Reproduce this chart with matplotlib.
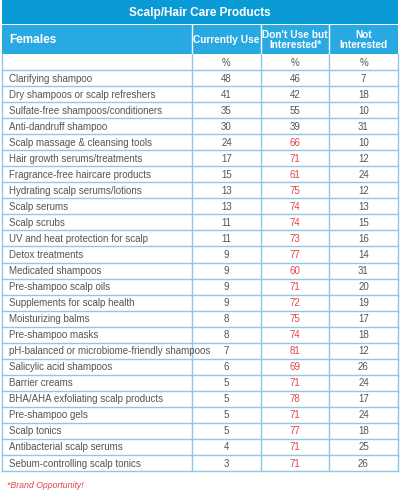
import matplotlib
matplotlib.use('Agg')
import matplotlib.pyplot as plt
from matplotlib.patches import Rectangle

title = 'Scalp/Hair Care Products'
headers = ['Females', 'Currently Use', "Don't Use but\nInterested*", 'Not\nInterested']
products = ['Clarifying shampoo', 'Dry shampoos or scalp refreshers', 'Sulfate-free shampoos/conditioners',
            'Anti-dandruff shampoo', 'Scalp massage & cleansing tools', 'Hair growth serums/treatments',
            'Fragrance-free haircare products', 'Hydrating scalp serums/lotions', 'Scalp serums', 'Scalp scrubs',
            'UV and heat protection for scalp', 'Detox treatments', 'Medicated shampoos', 'Pre-shampoo scalp oils',
            'Supplements for scalp health', 'Moisturizing balms', 'Pre-shampoo masks',
            'pH-balanced or microbiome-friendly shampoos', 'Salicylic acid shampoos', 'Barrier creams',
            'BHA/AHA exfoliating scalp products', 'Pre-shampoo gels', 'Scalp tonics',
            'Antibacterial scalp serums', 'Sebum-controlling scalp tonics']
currently_use = [48, 41, 35, 30, 24, 17, 15, 13, 13, 11, 11, 9, 9, 9, 9, 8, 8, 7, 6, 5, 5, 5, 5, 4, 3]
interested = [46, 42, 55, 39, 66, 71, 61, 75, 74, 74, 73, 77, 60, 71, 72, 75, 74, 81, 69, 71, 78, 71, 77, 71, 71]
not_interested = [7, 18, 10, 31, 10, 12, 24, 12, 13, 15, 16, 14, 31, 20, 19, 17, 18, 12, 26, 24, 17, 24, 18, 25, 26]
highlighted = products[4:]  # red "brand opportunity" values

plt.rcParams['font.family'] = ['Liberation Sans Narrow', 'Liberation Sans', 'DejaVu Sans']

W, H = 400, 498
fig = plt.figure(figsize=(W / 100, H / 100), dpi=100)
ax = fig.add_axes([0, 0, 1, 1])
ax.set_xlim(0, W)
ax.set_ylim(H, 0)
ax.axis('off')

blue_dark = '#0a9ad6'
blue = '#29a9e1'
line = '#8cc8ea'
grey = '#555555'
red = '#e0474c'
cols = [2, 192, 261, 329, 398]

# title bar and header
ax.add_patch(Rectangle((2, 0), 396, 24, color=blue_dark, lw=0))
ax.text(200, 12.5, title, color='white', fontsize=8.5, fontweight='bold', ha='center', va='center')
ax.add_patch(Rectangle((2, 25), 396, 29, color=blue, lw=0))
for i, h in enumerate(headers):
    if i == 0:
        ax.text(9, 40, h, color='white', fontsize=8.5, fontweight='bold', va='center')
    else:
        ax.text((cols[i] + cols[i + 1]) / 2, 40, h, color='white', fontsize=7.3, fontweight='bold',
                ha='center', va='center', linespacing=1.0)
for x in cols[1:-1]:
    ax.plot([x, x], [25, 54], color='white', lw=1)

top, rh = 54, 16.04
rows = [('', '%', '%', '%')] + list(zip(products, currently_use, interested, not_interested))
for r, row in enumerate(rows):
    y0 = top + r * rh
    yc = y0 + rh / 2 + 0.5
    ax.text(9, yc, row[0], color=grey, fontsize=7, va='center')
    for j in range(1, 4):
        c = red if (j == 2 and row[0] in highlighted) else grey
        ax.text((cols[j] + cols[j + 1]) / 2, yc, str(row[j]), color=c, fontsize=7, ha='center', va='center')
    ax.plot([2, 398], [y0 + rh, y0 + rh], color=line, lw=1)
bottom = top + len(rows) * rh
for x in cols:
    ax.plot([x, x], [54, bottom], color=line, lw=1)

ax.text(7, 485, '*Brand Opportunity!', color=red, fontsize=6.3, style='italic', va='center')

fig.savefig('out.png', dpi=100)
